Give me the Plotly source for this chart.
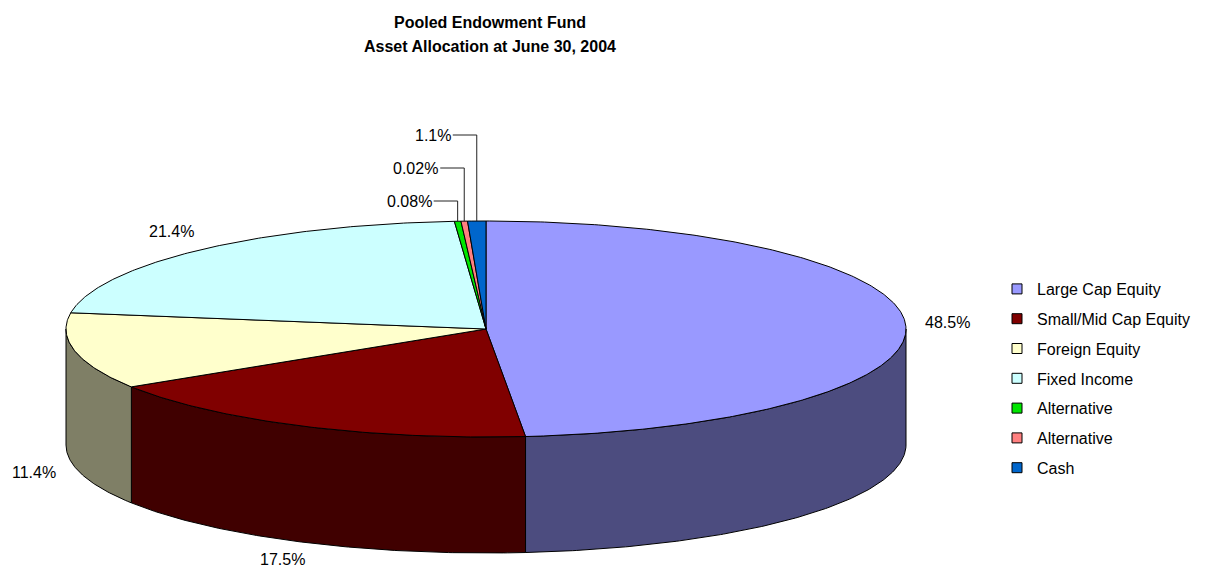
import numpy as np
import plotly.graph_objects as go

# ---------------- data ----------------
categories = ["Large Cap Equity", "Small/Mid Cap Equity", "Foreign Equity",
              "Fixed Income", "Alternative", "Alternative", "Cash"]
values = [48.5, 17.5, 11.4, 21.4, 0.08, 0.02, 1.1]
value_labels = ["48.5%", "17.5%", "11.4%", "21.4%", "0.08%", "0.02%", "1.1%"]
colors = ["#9999FF", "#800000", "#FFFFCC", "#CCFFFF", "#00E600", "#FF8080", "#0066CC"]
title_lines = ["Pooled Endowment Fund", "Asset Allocation at June 30, 2004"]

# ---------------- geometry (pixel-like axes) ----------------
W, H = 1227, 569
CX, CY = 486, 329
RX, RY = 420, 108
DEPTH = 116
MIN_SHOW = 0.25      # smallest visible share of a slice (as Excel renders tiny slices)
SMALL = 2.0          # slices below this get leader-line labels
FONT = "Arial, Liberation Sans, sans-serif"
LABEL_SIZE = 16


def darker(c):
    r, g, b = int(c[1:3], 16), int(c[3:5], 16), int(c[5:7], 16)
    return "#%02X%02X%02X" % (r // 2, g // 2, b // 2)


def pt(theta_deg, dy=0.0):
    t = np.radians(theta_deg)
    return CX + RX * np.cos(t), CY - RY * np.sin(t) + dy


def arc(a, b, dy=0.0):
    n = max(2, int(abs(a - b) * 2) + 1)
    th = np.linspace(a, b, n)
    xs, ys = pt(th, dy)
    return list(xs), list(ys)


# slice boundaries (percent), tiny slices kept at least MIN_SHOW wide
true_cum = np.cumsum(values)
bounds = [0.0]
for i in range(len(values)):
    b = true_cum[i]
    if values[i] < MIN_SHOW:
        b = max(b, bounds[-1] + MIN_SHOW)
    bounds.append(min(b, 100.0))
bounds[-1] = 100.0
bounds = np.array(bounds)
starts = 90.0 - 3.6 * bounds[:-1]
ends = 90.0 - 3.6 * bounds[1:]

fig = go.Figure()

# side walls (front half only: -180 .. 0 degrees)
for i in range(len(values)):
    hi, lo = min(starts[i], 0.0), max(ends[i], -180.0)
    if hi <= lo:
        continue
    tx, ty = arc(hi, lo)
    bx, by = arc(lo, hi, DEPTH)
    fig.add_trace(go.Scatter(x=tx + bx + [tx[0]], y=ty + by + [ty[0]],
                             mode="lines", fill="toself",
                             fillcolor=darker(colors[i]),
                             line=dict(color="black", width=1),
                             hoverinfo="skip", showlegend=False))

# top faces
for i in range(len(values)):
    ax, ay = arc(starts[i], ends[i])
    fig.add_trace(go.Scatter(x=[CX] + ax + [CX], y=[CY] + ay + [CY],
                             mode="lines", fill="toself",
                             fillcolor=colors[i],
                             line=dict(color="black", width=1),
                             hoverinfo="skip", showlegend=False))

# data labels
annotations = []
small_k = 0
for i in range(len(values)):
    mid = (starts[i] + ends[i]) / 2.0
    t = np.radians(mid)
    if values[i] >= SMALL:
        front = np.sin(t) < 0
        base = CY + (DEPTH if front else 0)
        lx = CX + (RX + 42) * np.cos(t)
        ly = base - (RY + 25) * np.sin(t)
        ly = min(ly, H - 10)
        annotations.append(dict(x=lx, y=ly, text=value_labels[i], showarrow=False,
                                xref="x", yref="y", xanchor="center", yanchor="middle",
                                borderpad=0,
                                font=dict(family=FONT, size=LABEL_SIZE, color="black")))
    else:
        x0, y0 = pt(mid)
        lev = (CY - RY) - 20 - 33 * small_k
        small_k += 1
        fig.add_trace(go.Scatter(x=[x0, x0, x0 - 24], y=[y0, lev, lev], mode="lines",
                                 line=dict(color="#222222", width=1),
                                 hoverinfo="skip", showlegend=False))
        annotations.append(dict(x=x0 - 25, y=lev, text=value_labels[i], showarrow=False,
                                xref="x", yref="y", xanchor="right", yanchor="middle",
                                borderpad=0,
                                font=dict(family=FONT, size=LABEL_SIZE, color="black")))

# title
for k, line in enumerate(title_lines):
    annotations.append(dict(x=490, y=22 + 24 * k, text="<b>%s</b>" % line, showarrow=False,
                            xref="x", yref="y", xanchor="center", yanchor="middle",
                            font=dict(family=FONT, size=16, color="black")))

# legend entries
for i, name in enumerate(categories):
    fig.add_trace(go.Scatter(x=[None], y=[None], mode="markers", name=name,
                             legendgroup="g%d" % i,
                             marker=dict(symbol="square", size=10, color=colors[i],
                                         line=dict(color="black", width=1))))

fig.update_layout(
    width=W, height=H,
    margin=dict(l=0, r=0, t=0, b=0),
    paper_bgcolor="white", plot_bgcolor="white",
    xaxis=dict(range=[0, W], visible=False, fixedrange=True),
    yaxis=dict(range=[H, 0], visible=False, fixedrange=True),
    annotations=annotations,
    showlegend=True,
    legend=dict(x=997 / W, y=1 - 272 / H, xanchor="left", yanchor="top",
                font=dict(family=FONT, size=16, color="black"),
                tracegroupgap=6, itemwidth=30, bgcolor="rgba(0,0,0,0)"),
)

fig.write_html("out.html")
